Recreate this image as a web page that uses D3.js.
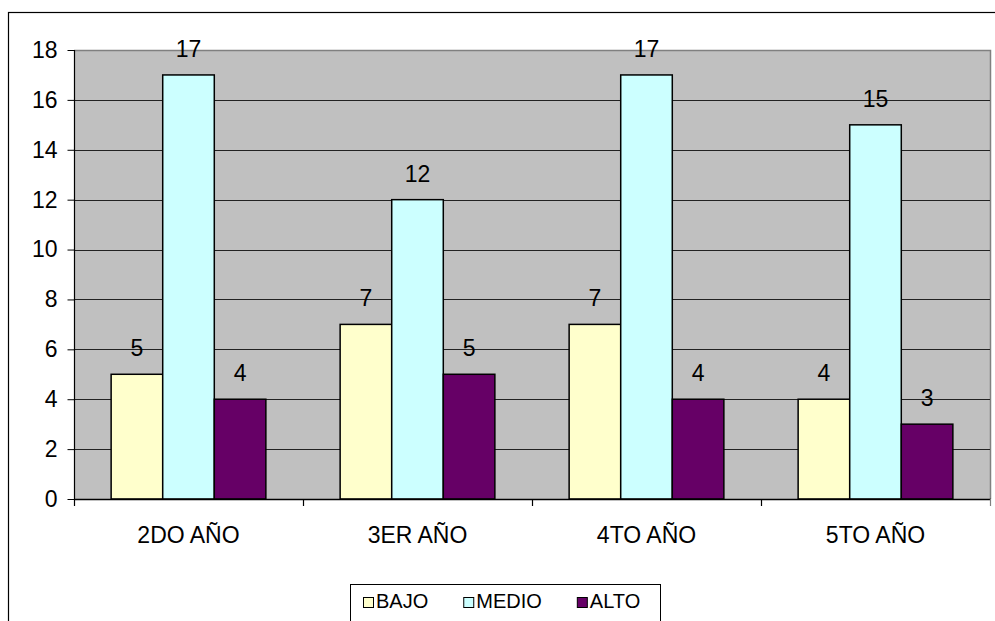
<!DOCTYPE html>
<html>
<head>
<meta charset="utf-8">
<script src="https://cdn.jsdelivr.net/npm/d3@7"></script>
<style>
    body { margin: 0; background: #fff; }
    svg { display: block; font-family: "Liberation Sans", Arial, sans-serif; }
</style>
</head>
<body>
<svg id="chart" width="995" height="621"></svg>
<script>
// chart data
var categories = ['2DO AÑO', '3ER AÑO', '4TO AÑO', '5TO AÑO'];
var seriesNames = ['BAJO', 'MEDIO', 'ALTO'];
var bajo = [5, 7, 7, 4];
var medio = [17, 12, 17, 15];
var alto = [4, 5, 4, 3];
var yTicks = [0, 2, 4, 6, 8, 10, 12, 14, 16, 18];
var colors = ['#FFFFCC', '#CCFFFF', '#660066'];

var seriesValues = [bajo, medio, alto];

var svg = d3.select('#chart');

// outer chart border (runs off the right and bottom of the picture)
svg.append('rect')
    .attr('x', 8.5).attr('y', 12.5)
    .attr('width', 1100).attr('height', 800)
    .attr('fill', 'white')
    .attr('stroke', 'black')
    .attr('stroke-width', 1.2);

var plot = { left: 74, right: 990, top: 50, bottom: 499 };

var y = d3.scaleLinear().domain([0, 18]).range([plot.bottom, plot.top]);
var x0 = d3.scaleBand().domain(categories).range([plot.left, plot.right]).padding(0);
var x1 = d3.scaleBand().domain(seriesNames).range([0, x0.bandwidth()])
    .paddingInner(0).paddingOuter(0.72);

// plot area
svg.append('rect')
    .attr('x', plot.left).attr('y', plot.top)
    .attr('width', plot.right - plot.left).attr('height', plot.bottom - plot.top)
    .attr('fill', '#C0C0C0');

// gray border top and right
svg.append('path')
    .attr('d', 'M' + plot.left + ',' + (plot.top + 0.5) + 'H' + (plot.right + 0.5) + 'V' + plot.bottom)
    .attr('fill', 'none')
    .attr('stroke', '#808080')
    .attr('stroke-width', 1.5);

// gridlines
svg.append('g')
    .selectAll('line')
    .data(yTicks.filter(function (d) { return d > 0 && d < 18; }))
    .enter()
    .append('line')
    .attr('x1', plot.left).attr('x2', plot.right)
    .attr('y1', function (d) { return Math.round(y(d)) + 0.5; })
    .attr('y2', function (d) { return Math.round(y(d)) + 0.5; })
    .attr('stroke', '#222')
    .attr('stroke-width', 1);

// bars
var groups = svg.append('g')
    .selectAll('g')
    .data(categories)
    .enter()
    .append('g')
    .attr('transform', function (d) { return 'translate(' + x0(d) + ',0)'; });

groups.selectAll('rect')
    .data(function (d, i) {
        return seriesNames.map(function (s, j) {
            return { series: s, value: seriesValues[j][i], color: colors[j] };
        });
    })
    .enter()
    .append('rect')
    .attr('x', function (d) { return x1(d.series); })
    .attr('y', function (d) { return y(d.value); })
    .attr('width', x1.bandwidth())
    .attr('height', function (d) { return y(0) - y(d.value); })
    .attr('fill', function (d) { return d.color; })
    .attr('stroke', 'black')
    .attr('stroke-width', 1.5);

// value labels
groups.selectAll('text')
    .data(function (d, i) {
        return seriesNames.map(function (s, j) {
            return { series: s, value: seriesValues[j][i] };
        });
    })
    .enter()
    .append('text')
    .attr('x', function (d) { return x1(d.series) + x1.bandwidth() / 2; })
    .attr('y', function (d) { return y(d.value) - 18; })
    .attr('text-anchor', 'middle')
    .attr('font-size', '23px')
    .attr('fill', 'black')
    .text(function (d) { return d.value; });

// y axis
var yAxis = d3.axisLeft(y).tickValues(yTicks).tickSize(7).tickPadding(10);
var yg = svg.append('g')
    .attr('transform', 'translate(' + (plot.left + 0.5) + ',0)')
    .call(yAxis);
yg.select('.domain').remove();
yg.selectAll('line').attr('stroke', 'black');
yg.selectAll('text').attr('font-size', '23px').attr('font-family', '"Liberation Sans", Arial, sans-serif').attr('fill', 'black');
svg.append('line')
    .attr('x1', plot.left + 0.5).attr('x2', plot.left + 0.5)
    .attr('y1', plot.top).attr('y2', plot.bottom + 7)
    .attr('stroke', 'black').attr('stroke-width', 1.2);

// x axis
svg.append('line')
    .attr('x1', plot.left).attr('x2', plot.right + 1)
    .attr('y1', plot.bottom + 0.5).attr('y2', plot.bottom + 0.5)
    .attr('stroke', 'black').attr('stroke-width', 1.5);

// category boundary ticks
var boundaries = categories.map(function (c) { return x0(c); }).concat([plot.right]);
svg.append('g')
    .selectAll('line')
    .data(boundaries.slice(1))
    .enter()
    .append('line')
    .attr('x1', function (d) { return d + 0.5; })
    .attr('x2', function (d) { return d + 0.5; })
    .attr('y1', plot.bottom).attr('y2', plot.bottom + 7)
    .attr('stroke', function (d, i) { return i == 3 ? '#808080' : 'black'; })
    .attr('stroke-width', 1.2);

// category labels
svg.append('g')
    .selectAll('text')
    .data(categories)
    .enter()
    .append('text')
    .attr('x', function (d) { return x0(d) + x0.bandwidth() / 2; })
    .attr('y', 543)
    .attr('text-anchor', 'middle')
    .attr('font-size', '23px')
    .attr('fill', 'black')
    .text(function (d) { return d; });

// legend
var legend = svg.append('g');
legend.append('rect')
    .attr('x', 350.5).attr('y', 584.5)
    .attr('width', 310).attr('height', 60)
    .attr('fill', 'white')
    .attr('stroke', 'black')
    .attr('stroke-width', 1);

var lx = 363;
seriesNames.forEach(function (name, i) {
    legend.append('rect')
        .attr('x', lx + 0.5).attr('y', 597.5)
        .attr('width', 10).attr('height', 10)
        .attr('fill', colors[i])
        .attr('stroke', 'black')
        .attr('stroke-width', 1);
    var t = legend.append('text')
        .attr('x', lx + 13)
        .attr('y', 608)
        .attr('font-size', '20px')
        .attr('fill', 'black')
        .text(name);
    lx = lx + 13 + t.node().getComputedTextLength() + 35;
});
</script>
</body>
</html>
